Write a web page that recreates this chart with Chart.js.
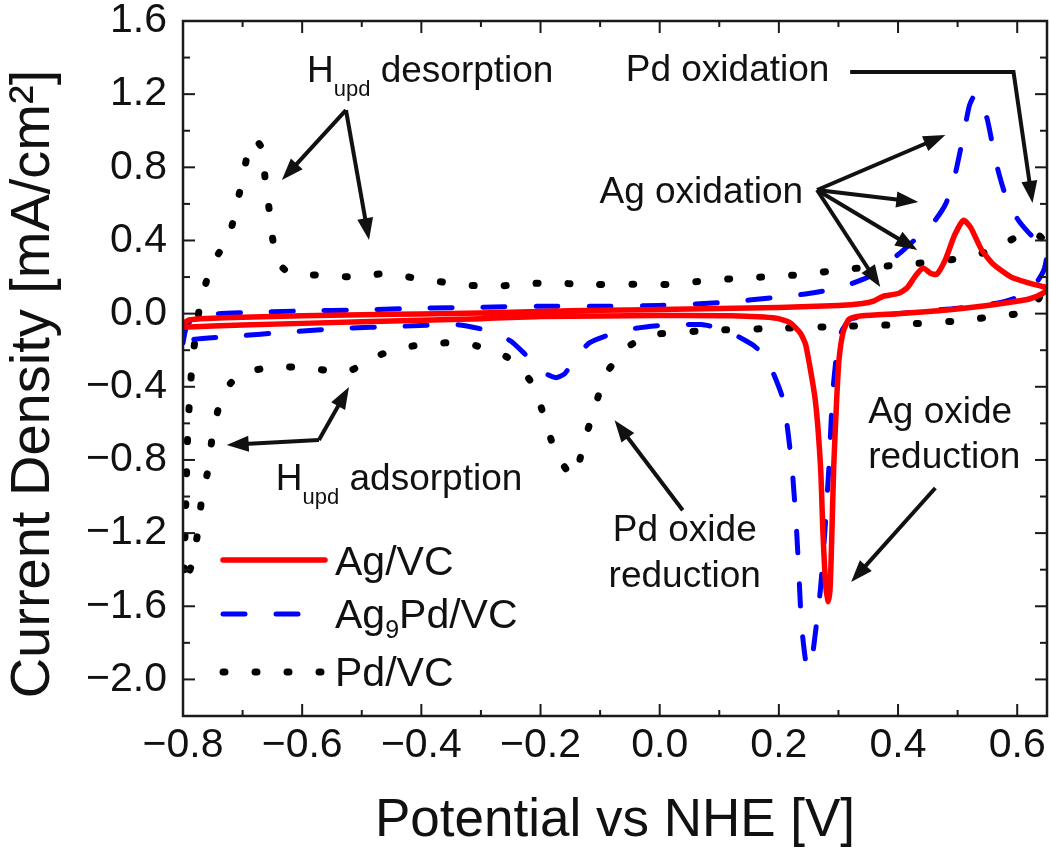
<!DOCTYPE html>
<html><head><meta charset="utf-8">
<script src="https://cdn.jsdelivr.net/npm/chart.js@4.4.1/dist/chart.umd.min.js"></script>
<style>html,body{margin:0;padding:0;background:#fff;}#wrap{width:1050px;height:853px;}</style>
</head><body><div id="wrap"><canvas id="c" width="1050" height="853"></canvas></div>
<script>
// ---- data (potential in V vs NHE, current density in mA/cm2) ----
const seriesNames = ['Ag/VC', 'Ag9Pd/VC', 'Pd/VC'];
const agX = [-0.8,-0.79,-0.76,-0.7,-0.6,-0.5,-0.4,-0.3,-0.2,-0.1,0.0,0.1,0.2,0.3,0.34,0.36,0.375,0.4,0.415,0.43,0.442,0.455,0.465,0.48,0.495,0.51,0.522,0.54,0.56,0.59,0.617,0.64,0.65,0.645,0.62,0.594,0.55,0.482,0.4,0.34,0.318,0.308,0.301,0.297,0.292,0.289,0.286,0.283,0.279,0.274,0.27,0.261,0.245,0.236,0.219,0.196,0.12,0.0,-0.2,-0.3,-0.5,-0.7,-0.8];
const agY = [-0.055,-0.035,-0.027,-0.02,-0.012,-0.006,-0.002,0.003,0.012,0.018,0.023,0.028,0.034,0.044,0.055,0.07,0.095,0.11,0.14,0.21,0.25,0.22,0.215,0.3,0.43,0.51,0.47,0.35,0.27,0.2,0.17,0.15,0.14,0.115,0.08,0.065,0.045,0.02,0.0,-0.012,-0.03,-0.1,-0.25,-0.47,-0.84,-1.2,-1.5,-1.575,-1.5,-1.2,-0.84,-0.47,-0.17,-0.107,-0.05,-0.025,-0.012,-0.01,-0.016,-0.028,-0.045,-0.062,-0.075];
const agPdX = [-0.8,-0.795,-0.785,-0.77,-0.74,-0.7,-0.6,-0.5,-0.4,-0.3,-0.2,-0.1,0.0,0.1,0.2,0.25,0.3,0.35,0.38,0.41,0.44,0.46,0.48,0.495,0.51,0.52,0.53,0.54,0.55,0.565,0.58,0.6,0.62,0.64,0.65,0.645,0.63,0.6,0.57,0.5,0.45,0.4,0.35,0.32,0.305,0.297,0.29,0.284,0.277,0.27,0.263,0.255,0.25,0.245,0.238,0.234,0.23,0.222,0.207,0.18,0.16,0.14,0.11,0.07,0.0,-0.04,-0.08,-0.118,-0.14,-0.16,-0.174,-0.19,-0.22,-0.25,-0.28,-0.34,-0.44,-0.53,-0.62,-0.72,-0.78,-0.8];
const agPdY = [-0.16,-0.08,-0.03,-0.01,0.0,0.005,0.015,0.02,0.03,0.035,0.04,0.04,0.045,0.06,0.09,0.11,0.14,0.2,0.27,0.35,0.44,0.5,0.6,0.75,0.98,1.14,1.2,1.15,1.06,0.82,0.65,0.52,0.44,0.38,0.33,0.24,0.16,0.09,0.06,0.03,0.015,0.0,-0.015,-0.03,-0.1,-0.22,-0.45,-0.84,-1.2,-1.5,-1.7,-1.9,-1.94,-1.9,-1.7,-1.45,-1.2,-0.84,-0.47,-0.25,-0.18,-0.14,-0.09,-0.06,-0.065,-0.08,-0.11,-0.16,-0.24,-0.33,-0.35,-0.33,-0.24,-0.15,-0.1,-0.06,-0.07,-0.08,-0.1,-0.125,-0.14,-0.16];
const pdX = [-0.798,-0.795,-0.792,-0.788,-0.784,-0.778,-0.772,-0.763,-0.754,-0.74,-0.723,-0.71,-0.698,-0.69,-0.683,-0.675,-0.667,-0.662,-0.655,-0.648,-0.635,-0.62,-0.564,-0.51,-0.457,-0.404,-0.348,-0.297,-0.241,-0.188,-0.132,-0.045,0.011,0.062,0.118,0.171,0.224,0.28,0.336,0.4,0.45,0.5,0.55,0.6,0.625,0.645,0.65,0.645,0.63,0.6,0.55,0.5,0.4,0.3,0.2,0.1,0.0,-0.03,-0.053,-0.075,-0.093,-0.11,-0.126,-0.138,-0.145,-0.155,-0.176,-0.193,-0.213,-0.235,-0.257,-0.314,-0.364,-0.42,-0.47,-0.5,-0.527,-0.583,-0.639,-0.695,-0.72,-0.737,-0.75,-0.757,-0.768,-0.775,-0.784,-0.795,-0.798];
const pdY = [-1.4,-1.0,-0.65,-0.42,-0.25,-0.1,0.04,0.15,0.25,0.33,0.42,0.59,0.77,0.9,0.95,0.94,0.9,0.73,0.56,0.38,0.26,0.22,0.21,0.2,0.22,0.19,0.166,0.15,0.156,0.17,0.16,0.16,0.16,0.175,0.19,0.2,0.21,0.23,0.25,0.265,0.28,0.3,0.34,0.42,0.45,0.4,0.33,0.15,0.05,0.0,-0.02,-0.04,-0.06,-0.07,-0.08,-0.09,-0.11,-0.14,-0.18,-0.26,-0.345,-0.53,-0.69,-0.85,-0.89,-0.86,-0.75,-0.57,-0.39,-0.29,-0.236,-0.17,-0.16,-0.18,-0.226,-0.28,-0.32,-0.3,-0.29,-0.32,-0.38,-0.48,-0.65,-0.84,-1.0,-1.19,-1.36,-1.45,-1.4];
const xTickValues = [-0.8,-0.6,-0.4,-0.2,0.0,0.2,0.4,0.6];
const yTickValues = [-2.0,-1.6,-1.2,-0.8,-0.4,0.0,0.4,0.8,1.2,1.6];
const xMinorTicks = [-0.7,-0.5,-0.3,-0.1,0.1,0.3,0.5];
const yMinorTicks = [-1.8,-1.4,-1.0,-0.6,-0.2,0.2,0.6,1.0,1.4];

const FONT = '"Liberation Sans", Arial, Helvetica, sans-serif';
const pts = (xs, ys) => xs.slice(0, Math.min(xs.length, ys.length)).map((x, i) => ({x, y: ys[i]}));
const fmt = v => { const r = Math.round(v * 10) / 10; return (r < 0 ? '\u2212' : '') + Math.abs(r).toFixed(1); };

function arrow(ctx, P) { // polyline, head at last point
  const n = P.length, hl = 22, hw = 8;
  const [ax, ay] = P[n - 2], [bx, by] = P[n - 1];
  const ang = Math.atan2(by - ay, bx - ax);
  ctx.beginPath();
  ctx.moveTo(P[0][0], P[0][1]);
  for (let i = 1; i < n - 1; i++) ctx.lineTo(P[i][0], P[i][1]);
  ctx.lineTo(bx - Math.cos(ang) * hl * 0.8, by - Math.sin(ang) * hl * 0.8);
  ctx.stroke();
  ctx.beginPath();
  ctx.moveTo(bx, by);
  ctx.lineTo(bx - Math.cos(ang) * hl + Math.sin(ang) * hw, by - Math.sin(ang) * hl - Math.cos(ang) * hw);
  ctx.lineTo(bx - Math.cos(ang) * hl - Math.sin(ang) * hw, by - Math.sin(ang) * hl + Math.cos(ang) * hw);
  ctx.closePath();
  ctx.fill();
}
function runs(ctx, x, y, parts, align) {
  let w = 0;
  for (const [t, s] of parts) { ctx.font = s + 'px ' + FONT; w += ctx.measureText(t).width; }
  let cx = align === 'center' ? x - w / 2 : x;
  ctx.textAlign = 'left'; ctx.textBaseline = 'alphabetic';
  for (const [t, s, dy] of parts) { ctx.font = s + 'px ' + FONT; ctx.fillText(t, cx, y + (dy || 0)); cx += ctx.measureText(t).width; }
}

const decor = {
  id: 'decor',
  afterDraw(chart) {
    const {ctx, chartArea: a, scales: {x: xs, y: ys}} = chart;
    const P = (u, v) => [xs.getPixelForValue(u), ys.getPixelForValue(v)];
    ctx.save();
    ctx.strokeStyle = '#1a1a1a'; ctx.lineCap = 'butt';
    const seg = (x1, y1, x2, y2) => { ctx.beginPath(); ctx.moveTo(x1, y1); ctx.lineTo(x2, y2); ctx.stroke(); };
    ctx.lineWidth = 2;
    xTickValues.forEach(v => { const p = xs.getPixelForValue(v); seg(p, a.bottom, p, a.bottom - 12); seg(p, a.top, p, a.top + 12); });
    xMinorTicks.forEach(v => { const p = xs.getPixelForValue(v); seg(p, a.bottom, p, a.bottom - 6); seg(p, a.top, p, a.top + 6); });
    yTickValues.forEach(v => { const p = ys.getPixelForValue(v); seg(a.left, p, a.left + 12, p); seg(a.right, p, a.right - 12, p); });
    yMinorTicks.forEach(v => { const p = ys.getPixelForValue(v); seg(a.left, p, a.left + 7, p); seg(a.right, p, a.right - 7, p); });
    ctx.lineWidth = 2.5;
    ctx.strokeRect(a.left, a.top, a.right - a.left, a.bottom - a.top);

    // legend
    const ds = chart.data.datasets;
    const lx0 = a.left + 40, lx1 = a.left + 142, tx = a.left + 152;
    const rows = [a.top + 539, a.top + 593, a.top + 651];
    rows.forEach((ry, i) => {
      const d = ds[i];
      ctx.save();
      ctx.strokeStyle = d.borderColor; ctx.lineWidth = d.borderWidth;
      ctx.lineCap = d.borderCapStyle || 'butt';
      ctx.setLineDash(d.borderDash || []);
      seg(lx0, ry, lx1, ry);
      ctx.restore();
    });
    ctx.fillStyle = '#111';
    runs(ctx, tx, rows[0] + 15, [['Ag/VC', 41]]);
    runs(ctx, tx, rows[1] + 14, [['Ag', 41], ['9', 25, 10], ['Pd/VC', 41]]);
    runs(ctx, tx, rows[2] + 14, [['Pd/VC', 41]]);

    // annotations
    ctx.strokeStyle = '#111'; ctx.fillStyle = '#111'; ctx.lineWidth = 4; ctx.lineJoin = 'miter';
    let q = P(-0.592, 1.266);
    runs(ctx, q[0], q[1], [['H', 37], ['upd', 22, 14], [' desorption', 37]]);
    arrow(ctx, [P(-0.5265, 1.113), P(-0.634, 0.73)]);
    arrow(ctx, [P(-0.5265, 1.113), P(-0.4878, 0.402)]);

    q = P(-0.057, 1.27);
    runs(ctx, q[0], q[1], [['Pd oxidation', 37]]);
    arrow(ctx, [P(0.3196, 1.321), P(0.5938, 1.321), P(0.6257, 0.605)]);

    q = P(-0.101, 0.605);
    runs(ctx, q[0], q[1], [['Ag oxidation', 37]]);
    const o = P(0.2641, 0.6758);
    [[0.4794, 0.9765], [0.434, 0.6102], [0.4323, 0.3477], [0.3701, 0.1455]].forEach(t => arrow(ctx, [o, P(t[0], t[1])]));

    q = P(-0.6442, -0.9644);
    runs(ctx, q[0], q[1], [['H', 37], ['upd', 22, 14], [' adsorption', 37]]);
    arrow(ctx, [P(-0.5719, -0.691), P(-0.5214, -0.4013)]);
    arrow(ctx, [P(-0.5719, -0.691), P(-0.7267, -0.7184)]);

    q = P(0.042, -1.2433);
    runs(ctx, q[0], q[1], [['Pd oxide', 37]], 'center');
    q = P(0.042, -1.4948);
    runs(ctx, q[0], q[1], [['reduction', 37]], 'center');
    arrow(ctx, [P(0.0387, -1.0749), P(-0.0757, -0.5828)]);

    q = P(0.3499, -0.5981);
    runs(ctx, q[0], q[1], [['Ag oxide', 37]]);
    q = P(0.3499, -0.8441);
    runs(ctx, q[0], q[1], [['reduction', 37]]);
    arrow(ctx, [P(0.4626, -0.9532), P(0.3213, -1.4671)]);
    ctx.restore();
  }
};

new Chart(document.getElementById('c'), {
  type: 'scatter',
  data: {
    datasets: [
      {label: seriesNames[0], data: pts(agX, agY), showLine: true, borderColor: '#ff0000', backgroundColor: '#ff0000', borderWidth: 5.5, pointRadius: 0, tension: 0.2, borderCapStyle: 'round', borderJoinStyle: 'round'},
      {label: seriesNames[1], data: pts(agPdX, agPdY), showLine: true, borderColor: '#0000ff', backgroundColor: '#0000ff', borderWidth: 5, borderDash: [22, 31], borderCapStyle: 'round', pointRadius: 0, tension: 0.2},
      {label: seriesNames[2], data: pts(pdX, pdY), showLine: true, borderColor: '#000000', backgroundColor: '#000000', borderWidth: 7, borderDash: [2, 30], borderCapStyle: 'round', pointRadius: 0, tension: 0.2}
    ]
  },
  options: {
    responsive: false, animation: false,
    layout: {padding: {top: 21, right: 3, left: 0, bottom: 0}},
    plugins: {legend: {display: false}, tooltip: {enabled: false}},
    events: [],
    scales: {
      x: {
        type: 'linear', min: -0.8, max: 0.65,
        afterBuildTicks: s => { s.ticks = xTickValues.map(v => ({value: v})); },
        afterFit: s => { s.height = 137; s.paddingLeft = 0; s.paddingRight = 0; },
        grid: {display: false, drawTicks: false},
        border: {display: false},
        ticks: {padding: 5, color: '#111', font: {size: 41, family: FONT}, callback: v => fmt(v), maxRotation: 0, autoSkip: false},
        title: {display: true, text: 'Potential vs NHE [V]', color: '#111', font: {size: 53, family: FONT}, padding: {top: 0, bottom: 0}}
      },
      y: {
        type: 'linear', min: -2.2, max: 1.6,
        afterBuildTicks: s => { s.ticks = yTickValues.map(v => ({value: v})); },
        afterFit: s => { s.width = 183; s.paddingTop = 0; s.paddingBottom = 0; },
        grid: {display: false, drawTicks: false},
        border: {display: false},
        ticks: {padding: 16, color: '#111', font: {size: 41, family: FONT}, callback: v => fmt(v), autoSkip: false},
        title: {display: true, text: 'Current Density [mA/cm\u00B2]  ', color: '#111', font: {size: 56, family: FONT}, padding: {top: 0, bottom: 0}}
      }
    }
  },
  plugins: [decor]
});
</script>
</body></html>
